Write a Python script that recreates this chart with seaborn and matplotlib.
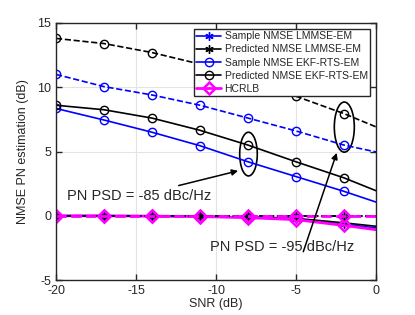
import matplotlib
matplotlib.use("Agg")
import matplotlib.pyplot as plt
import seaborn as sns
from matplotlib.patches import Ellipse

sns.set_style("ticks")
plt.rcParams['font.family'] = ['Liberation Sans', 'DejaVu Sans']
plt.rcParams['axes.unicode_minus'] = False

# SNR points (last one sits beyond the x-limit, only the line segment shows)
snr = [-20, -17, -14, -11, -8, -5, -2, 1]

# solid curves
sample_lmmse_a = [0.0, 0.0, -0.02, -0.05, -0.12, -0.25, -0.65, -1.1]
pred_lmmse_a = [0.0, 0.0, -0.02, -0.05, -0.1, -0.2, -0.55, -0.95]
sample_ekf_a = [8.35, 7.45, 6.5, 5.45, 4.2, 3.05, 1.9, 0.65]
pred_ekf_a = [8.6, 8.25, 7.6, 6.65, 5.5, 4.2, 2.95, 1.45]
hcrlb_a = [0.0, 0.0, -0.03, -0.06, -0.15, -0.3, -0.75, -1.25]

# dashed curves
sample_lmmse_b = [0.0, 0.0, 0.0, 0.0, 0.0, 0.0, 0.0, 0.0]
pred_lmmse_b = [0.0, 0.0, 0.0, 0.0, 0.0, 0.0, 0.0, 0.0]
sample_ekf_b = [11.0, 10.05, 9.4, 8.6, 7.6, 6.6, 5.5, 4.7]
pred_ekf_b = [13.8, 13.4, 12.7, 11.8, 10.6, 9.3, 7.95, 6.4]
hcrlb_b = [0.0, 0.0, 0.0, 0.0, 0.0, 0.0, 0.0, 0.0]

labels = ["Sample NMSE LMMSE-EM", "Predicted NMSE LMMSE-EM",
          "Sample NMSE EKF-RTS-EM", "Predicted NMSE EKF-RTS-EM", "HCRLB"]

blue = "#0000ff"
mag = "#ff00ff"
star = (6, 2, 0)

fig = plt.figure(figsize=(4.15, 3.15), dpi=100)
ax = fig.add_axes([0.135, 0.111, 0.771, 0.816])

# color, marker, line width, marker edge width, marker size
styles = [
    (blue, star, 1.2, 1.0, 6),
    ("k", star, 1.2, 1.0, 6),
    (blue, "o", 1.2, 1.0, 6),
    ("k", "o", 1.2, 1.0, 6),
    (mag, "D", 2.0, 1.8, 6.5),
]

solid = [sample_lmmse_a, pred_lmmse_a, sample_ekf_a, pred_ekf_a, hcrlb_a]
dashed = [sample_lmmse_b, pred_lmmse_b, sample_ekf_b, pred_ekf_b, hcrlb_b]

for vals, lab, (c, m, lw, mew, ms) in zip(solid, labels, styles):
    sns.lineplot(x=snr, y=vals, ax=ax, color=c, marker=m, lw=lw,
                 markersize=ms, markerfacecolor="none",
                 markeredgecolor=c, markeredgewidth=mew, label=lab)

for vals, (c, m, lw, mew, ms) in zip(dashed, styles):
    sns.lineplot(x=snr, y=vals, ax=ax, color=c, marker=m, lw=lw, linestyle="--",
                 markersize=ms, markerfacecolor="none",
                 markeredgecolor=c, markeredgewidth=mew)

ax.set_xlim(-20, 0)
ax.set_ylim(-5, 15)
ax.set_xticks([-20, -15, -10, -5, 0])
ax.set_yticks([-5, 0, 5, 10, 15])
ax.grid(True, color="#e3e3e3", lw=0.8)
ax.set_axisbelow(True)
ax.tick_params(direction="in", top=True, right=True, labelsize=9, length=4,
               width=1, colors="#262626")
for s in ax.spines.values():
    s.set_color("#262626")
    s.set_linewidth(1)
ax.set_xlabel("SNR (dB)", fontsize=9, color="#262626", labelpad=1)
ax.set_ylabel("NMSE PN estimation (dB)", fontsize=9, color="#262626", labelpad=6)

leg = ax.legend(loc="upper right", fontsize=7.5, handlelength=2.4,
                handletextpad=0.3, labelspacing=0.3, borderpad=0.25,
                borderaxespad=0.55, fancybox=False, framealpha=1)
leg.get_frame().set_edgecolor("#262626")
leg.get_frame().set_linewidth(1)

# annotations
ax.add_patch(Ellipse((-7.97, 4.8), 1.1, 3.4, fill=False, ec="k", lw=1.2))
ax.add_patch(Ellipse((-1.98, 6.9), 1.25, 3.9, fill=False, ec="k", lw=1.2))
ax.annotate("", xy=(-8.45, 3.55), xytext=(-12.5, 2.3),
            arrowprops=dict(arrowstyle="-|>", color="k", lw=1.1, mutation_scale=9))
ax.annotate("", xy=(-2.4, 5.1), xytext=(-4.6, -3.0),
            arrowprops=dict(arrowstyle="-|>", color="k", lw=1.1, mutation_scale=9))
ax.text(-19.3, 1.5, "PN PSD = -85 dBc/Hz", fontsize=10.5, va="center")
ax.text(-10.4, -2.4, "PN PSD = -95 dBc/Hz", fontsize=10.5, va="center")

fig.savefig("out.png", dpi=100)
